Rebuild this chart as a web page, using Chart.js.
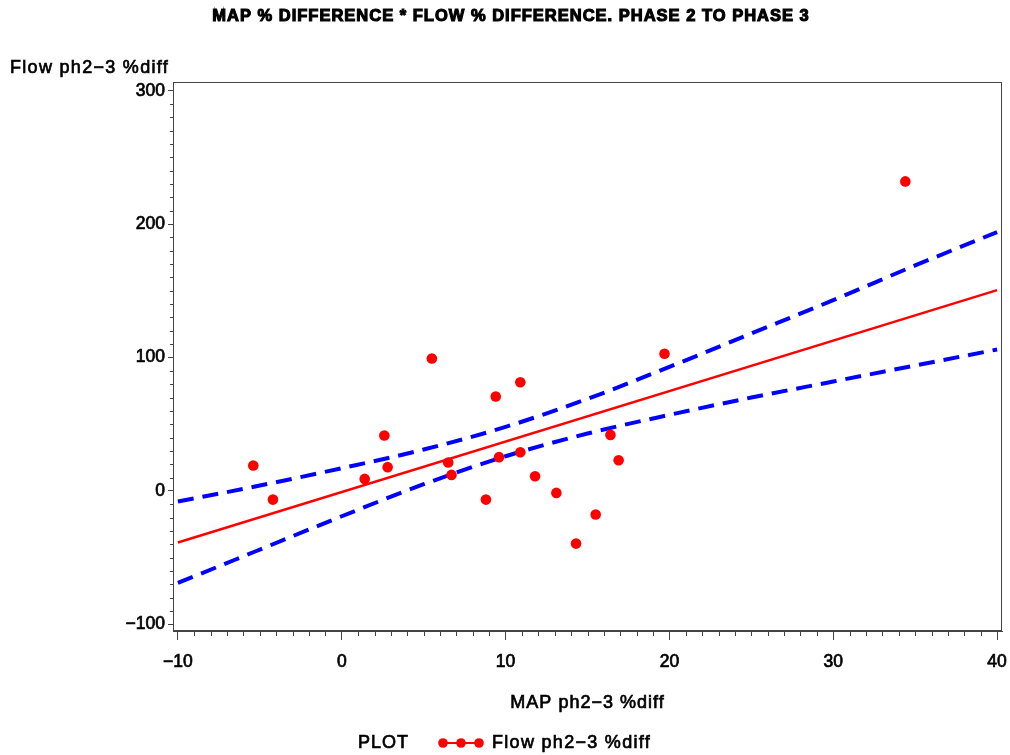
<!DOCTYPE html>
<html>
<head>
<meta charset="utf-8">
<script src="https://cdn.jsdelivr.net/npm/chart.js@4.4.1/dist/chart.umd.min.js"></script>
<style>
  html, body { margin: 0; padding: 0; background: #fff; }
  #wrap { width: 1010px; height: 755px; }
</style>
</head>
<body>
<div id="wrap"><canvas id="plotChart" width="1010" height="755"></canvas></div>
<script>
// values
const mapDiff = [-5.4, -4.2, 1.4, 2.6, 2.8, 5.5, 6.5, 6.7, 8.8, 9.4, 9.6, 10.9, 10.9, 11.8, 13.1, 14.3, 15.5, 16.4, 16.9, 19.7, 34.4];
const flowDiff = [19, -6.5, 9, 41.5, 17.8, 99.3, 21.3, 12, -6.5, 70.8, 25.3, 81.5, 29, 11, -1.5, -39.5, -17.7, 42, 23, 102.8, 232];

const fitX = [-10, 40];
const fitY = [-38.7, 150.5];

const bandX = [-10, -5, 0, 5, 10, 15, 20, 25, 30, 35, 40];
const upperBand = [-8, 4, 17, 31, 48, 69, 93, 118, 143, 169, 194];
const lowerBand = [-69, -44, -19, 5, 26, 43, 57, 70, 82, 94, 106];

const xTickValues = [-10, 0, 10, 20, 30, 40];
const yTickValues = [-100, 0, 100, 200, 300];

const chartTitle = 'MAP % DIFFERENCE * FLOW % DIFFERENCE. PHASE 2 TO PHASE 3';
const xTitle = 'MAP ph2\u22123 %diff';
const yTitle = 'Flow ph2\u22123 %diff';
const legendLabel = 'Flow ph2\u22123 %diff';

const FONT = '"Liberation Sans", Arial, Helvetica, sans-serif';
const AXIS_COLOR = '#444';

function toPoints(xs, ys) {
  return xs.map((x, i) => ({ x: x, y: ys[i] }));
}

function fmt(v) {
  return String(v).replace('-', '\u2212');
}

// SAS text looks heavier than plain regular, so stroke it a little
function heavyText(ctx, text, x, y, w) {
  ctx.lineWidth = w;
  ctx.strokeStyle = '#000';
  ctx.strokeText(text, x, y);
  ctx.fillText(text, x, y);
}

const decorPlugin = {
  id: 'decor',
  afterDraw(chart) {
    const ctx = chart.ctx;
    const area = chart.chartArea;
    const xs = chart.scales.x;
    const ys = chart.scales.y;

    ctx.save();
    // frame
    ctx.strokeStyle = AXIS_COLOR;
    ctx.lineWidth = 1;
    ctx.strokeRect(area.left + 0.5, area.top + 0.5, area.right - area.left - 1, area.bottom - area.top - 1);

    // minor ticks
    ctx.beginPath();
    for (let v = -100; v <= 300; v += 10) {
      if (v % 100 === 0) continue;
      const py = Math.round(ys.getPixelForValue(v)) + 0.5;
      ctx.moveTo(area.left, py);
      ctx.lineTo(area.left - 3, py);
    }
    for (let v = -10; v <= 40; v += 1) {
      if (v % 10 === 0) continue;
      const px = Math.round(xs.getPixelForValue(v)) + 0.5;
      ctx.moveTo(px, area.bottom);
      ctx.lineTo(px, area.bottom + 5);
    }
    ctx.stroke();

    // titles
    ctx.fillStyle = '#000';
    ctx.textBaseline = 'middle';
    ctx.letterSpacing = '1px';
    ctx.font = 'bold 16.5px ' + FONT;
    ctx.textAlign = 'center';
    heavyText(ctx, chartTitle, 511, 16, 1.1);

    ctx.letterSpacing = '1.3px';
    ctx.font = '18px ' + FONT;
    ctx.textAlign = 'left';
    heavyText(ctx, yTitle, 10, 68, 0.7);

    ctx.letterSpacing = '1px';
    ctx.textAlign = 'center';
    heavyText(ctx, xTitle, (area.left + area.right) / 2, 703, 0.7);

    // legend
    ctx.textAlign = 'left';
    heavyText(ctx, 'PLOT', 358, 743, 0.7);
    ctx.strokeStyle = '#ff0000';
    ctx.lineWidth = 2;
    ctx.beginPath();
    ctx.moveTo(440, 743);
    ctx.lineTo(482, 743);
    ctx.stroke();
    ctx.fillStyle = '#ff0000';
    [443, 461, 479].forEach(cx => {
      ctx.beginPath();
      ctx.arc(cx, 743, 4.8, 0, Math.PI * 2);
      ctx.fill();
    });
    ctx.fillStyle = '#000';
    ctx.letterSpacing = '1.3px';
    heavyText(ctx, legendLabel, 492, 743, 0.7);
    ctx.restore();
  }
};

const ctx = document.getElementById('plotChart').getContext('2d');
new Chart(ctx, {
  type: 'scatter',
  data: {
    datasets: [
      {
        label: 'Flow ph2-3 %diff',
        data: toPoints(mapDiff, flowDiff),
        backgroundColor: '#ff0000',
        borderColor: '#ff0000',
        pointRadius: 5.3,
        pointBorderWidth: 0,
        showLine: false
      },
      {
        label: 'fit',
        data: toPoints(fitX, fitY),
        showLine: true,
        borderColor: '#ff0000',
        borderWidth: 2.5,
        pointRadius: 0
      },
      {
        label: 'upper',
        data: toPoints(bandX, upperBand),
        showLine: true,
        borderColor: '#0000ff',
        borderWidth: 4,
        borderDash: [16, 9],
        cubicInterpolationMode: 'monotone',
        pointRadius: 0
      },
      {
        label: 'lower',
        data: toPoints(bandX, lowerBand),
        showLine: true,
        borderColor: '#0000ff',
        borderWidth: 4,
        borderDash: [16, 9],
        cubicInterpolationMode: 'monotone',
        pointRadius: 0
      }
    ]
  },
  options: {
    responsive: false,
    animation: false,
    devicePixelRatio: 1,
    layout: { padding: { top: 82, right: 8, left: 0, bottom: 0 } },
    plugins: {
      legend: { display: false },
      title: { display: false },
      tooltip: { enabled: false }
    },
    scales: {
      x: {
        type: 'linear',
        min: -10.3,
        max: 40.3,
        afterBuildTicks: s => { s.ticks = xTickValues.map(v => ({ value: v })); },
        afterFit: s => { s.height = 124; s.paddingLeft = 0; s.paddingRight = 0; },
        grid: { drawOnChartArea: false, tickLength: 9, color: AXIS_COLOR },
        border: { display: true, color: AXIS_COLOR },
        ticks: {
          color: '#000',
          padding: 12,
          maxRotation: 0,
          textStrokeColor: '#000',
          textStrokeWidth: 0.7,
          font: { family: FONT, size: 17.5 },
          callback: v => fmt(v)
        }
      },
      y: {
        type: 'linear',
        min: -105,
        max: 306.5,
        afterBuildTicks: s => { s.ticks = yTickValues.map(v => ({ value: v })); },
        afterFit: s => { s.width = 173; s.paddingTop = 0; s.paddingBottom = 0; },
        grid: { drawOnChartArea: false, tickLength: 5, color: AXIS_COLOR },
        border: { display: true, color: AXIS_COLOR },
        ticks: {
          color: '#000',
          padding: 3,
          textStrokeColor: '#000',
          textStrokeWidth: 0.7,
          font: { family: FONT, size: 17.5 },
          callback: v => fmt(v)
        }
      }
    }
  },
  plugins: [decorPlugin]
});
</script>
</body>
</html>
